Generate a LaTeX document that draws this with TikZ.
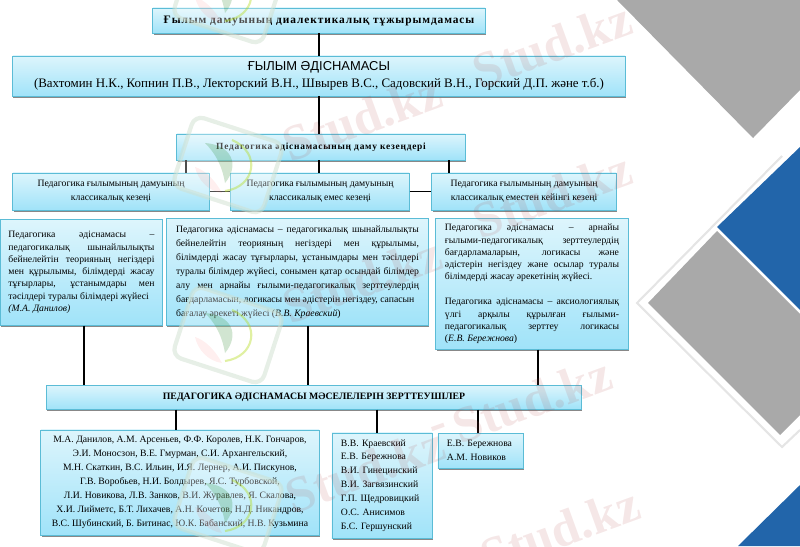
\documentclass[tikz,border=0pt]{standalone}
\usepackage{fontspec}
\setmainfont{Liberation Serif}
\newfontfamily\spacedbf[LetterSpace=8]{Liberation Serif Bold}
\newfontfamily\headsans{Liberation Sans}
\usetikzlibrary{shadows}
\definecolor{boxline}{HTML}{5BBCD6}
\definecolor{boxtop}{HTML}{DDF5FC}
\definecolor{boxbottom}{HTML}{A0E3F9}
\definecolor{bggray}{HTML}{A9A9A9}
\definecolor{bgblue}{HTML}{2265AA}
\definecolor{markred}{HTML}{B04848}
\definecolor{markgreen}{HTML}{CFE0CF}
\tikzset{
  infobox/.style={draw=boxline, line width=0.7pt, top color=boxtop, bottom color=boxbottom, inner sep=0pt,
    drop shadow={shadow xshift=0.4pt, shadow yshift=-1.1pt, fill=black!55, opacity=0.85},
    align=center, font=\fontsize{6.9}{8.75}\selectfont},
  namebox/.style={infobox, font=\fontsize{6.9}{9.88}\selectfont},
  wordmark/.style={font=\fontsize{36}{36}\selectfont\bfseries, text=markred, text opacity=0.13, rotate=20, inner sep=0pt},
  logomark/.style={draw=markgreen, draw opacity=0.5, line width=3pt, fill=white, fill opacity=0.3, rounded corners=7pt, rotate=-18, minimum width=2.35cm, minimum height=1.85cm},
  linkline/.style={line width=1.4pt, black}
}
\begin{document}
\begin{tikzpicture}[x=0.025cm, y=-0.025cm]
  \useasboundingbox (0,0) rectangle (800,546);
  % Background
  \fill[bggray] (617,0) -- (753,138) -- (800,90) -- (800,0) -- cycle;
  \draw[black!10, line width=1.5pt] (782,156) -- (637,303) -- (782,447) -- (800,430);
  \fill[bgblue] (800,147) -- (717,227) -- (800,310) -- cycle;
  \fill[bggray] (717,231) -- (648,303) -- (780,435) -- (800,415) -- (800,314) -- cycle;
  \fill[bgblue] (800,485) -- (738,546) -- (800,546) -- cycle;
  % Boxes
  \node[infobox, font=\fontsize{8.1}{10}\spacedbf, minimum width=8.3cm, minimum height=0.625cm] (title) at (319,20.5) {Ғылым дамуының диалектикалық тұжырымдамасы};
  \node[infobox, font=\fontsize{9.2}{12}\selectfont, minimum width=15.3cm, minimum height=1cm] (method) at (319,76) {{\headsans ҒЫЛЫМ ӘДІСНАМАСЫ}\\(Вахтомин Н.К., Копнин П.В., Лекторский В.Н., Швырев В.С., Садовский В.Н., Горский Д.П. және т.б.)};
  \node[infobox, font=\fontsize{6.7}{9}\spacedbf, minimum width=7.2cm, minimum height=0.65cm] (stages) at (321,147) {Педагогика әдіснамасының даму кезеңдері};
  \node[infobox, minimum width=4.9cm, minimum height=0.925cm] (stageA) at (111,191.5) {Педагогика ғылымының дамуының\\[1.5pt]классикалық кезеңі};
  \node[infobox, minimum width=4.45cm, minimum height=0.925cm] (stageB) at (320,191.5) {Педагогика ғылымының дамуының\\[1.5pt]классикалық емес кезеңі};
  \node[infobox, minimum width=4.6cm, minimum height=0.925cm] (stageC) at (524,191.5) {Педагогика ғылымының дамуының\\[1.5pt]классикалық еместен кейінгі кезеңі};
  \node[infobox, align=justify, text width=3.65cm, inner xsep=0.21cm, minimum height=2.625cm] (paraA) at (81.5,272.5) {Педагогика әдіснамасы –\linebreak педагогикалық шынайлылықты\linebreak бейнелейтін теорияның негіздері\linebreak мен құрылымы, білімдерді жасау\linebreak тұғырлары, ұстанымдары мен\linebreak тәсілдері туралы білімдері жүйесі\\\textit{(М.А. Данилов)}\par\vspace{5.7pt}};
  \node[infobox, font=\fontsize{6.9}{10}\selectfont, align=justify, text width=6.07cm, inner xsep=0.23cm, minimum height=2.65cm] (paraB) at (297.5,272) {Педагогика әдіснамасы – педагогикалық шынайлылықты\linebreak бейнелейтін теорияның негіздері мен құрылымы,\linebreak білімдерді жасау тұғырлары, ұстанымдары мен тәсілдері\linebreak туралы білімдер жүйесі, сонымен қатар осындай білімдер\linebreak алу мен арнайы ғылыми-педагогикалық зерттеулердің\linebreak бағдарламасын, логикасы мен әдістерін негіздеу, сапасын\\бағалау әрекеті жүйесі (\textit{В.В. Краевский})};
  \node[infobox, align=justify, text width=4.35cm, inner xsep=0.225cm, minimum height=3.25cm] (paraC) at (532,284) {Педагогика әдіснамасы – арнайы\linebreak ғылыми-педагогикалық зерттеулердің\linebreak бағдарламаларын, логикасы және\linebreak әдістерін негіздеу және осылар туралы\linebreak білімдерді жасау әрекетінің жүйесі.\\[9pt]Педагогика әдіснамасы – аксиологиялық\linebreak үлгі арқылы құрылған ғылыми-\linebreak педагогикалық зерттеу логикасы\linebreak (\textit{Е.В. Бережнова})};
  \node[infobox, font=\fontsize{6.95}{9}\selectfont\bfseries, minimum width=13.35cm, minimum height=0.6cm] (heads) at (314,397) {ПЕДАГОГИКА ӘДІСНАМАСЫ МӘСЕЛЕЛЕРІН ЗЕРТТЕУШІЛЕР};
  \node[namebox, minimum width=6.95cm, minimum height=2.625cm] (namesA) at (180,482.5) {М.А. Данилов, А.М. Арсеньев, Ф.Ф. Королев, Н.К. Гончаров,\\Э.И. Моносзон, В.Е. Гмурман, С.И. Архангельский,\\М.Н. Скаткин, В.С. Ильин, И.Я. Лернер, А.И. Пискунов,\\Г.В. Воробьев, Н.И. Болдырев, Я.С. Турбовской,\\Л.И. Новикова, Л.В. Занков, В.И. Журавлев, Я. Скалова,\\Х.И. Лийметс, Б.Т. Лихачев, А.Н. Кочетов, Н.Д. Никандров,\\В.С. Шубинский, Б. Битинас, Ю.К. Бабанский, Н.В. Кузьмина};
  \node[namebox, align=left, text width=2.05cm, inner xsep=0.225cm, minimum height=2.625cm] (namesB) at (382,485.5) {В.В. Краевский\\Е.В. Бережнова\\В.И. Гинецинский\\В.И. Загвязинский\\Г.П. Щедровицкий\\О.С. Анисимов\\Б.С. Гершунский};
  \node[namebox, align=left, text width=1.675cm, inner xsep=0.225cm, minimum height=0.875cm] (namesC) at (480.5,450.5) {Е.В. Бережнова\\А.М. Новиков};
  % Connectors
  \draw[linkline] (title) -- (method);
  \draw[linkline] (method.south -| title.south) -- (stages.north -| title.south);
  \draw[linkline] (186,0 |- stages.south) -- (186,0 |- stageA.north);
  \draw[linkline] (stages.south -| title.south) -- (stageB.north -| title.south);
  \draw[linkline] (449,0 |- stages.south) -- (449,0 |- stageC.north);
  \draw[linkline] (stageA) -- (stageB);
  \draw[linkline] (stageB) -- (stageC);
  \draw[linkline] (84,0 |- paraA.south) -- (84,0 |- heads.north);
  \draw[linkline] (308,0 |- paraB.south) -- (308,0 |- heads.north);
  \draw[linkline] (538,0 |- paraC.south) -- (538,0 |- heads.north);
  \draw[linkline] (176,0 |- heads.south) -- (176,0 |- namesA.north);
  \draw[linkline] (377,0 |- heads.south) -- (377,0 |- namesB.north);
  \draw[linkline] (478,0 |- heads.south) -- (478,0 |- namesC.north);
  % Watermarks
  \foreach \mx/\my in {552/45, 362/118, 552/195, 362/280, 365/470, 532/400, 560/530} {
    \node[wordmark] at (\mx,\my) {Stud.kz};
  }
  \node[wordmark] at (440,432) {-};
  \foreach \ly in {-5,165,335,505} {
    \node[logomark] at (228,\ly) {};
    \fill[green!45!black, opacity=0.18] (205,\ly-22) .. controls (232,\ly-20) and (240,\ly) .. (225,\ly+18) .. controls (222,\ly) and (215,\ly-12) .. (205,\ly-22);
    \draw[yellow!70!green, opacity=0.4, line width=1.5pt] (232,\ly-25) .. controls (262,\ly-12) and (255,\ly+22) .. (225,\ly+26);
    \fill[red!60, opacity=0.1] (195,\ly+2) .. controls (205,\ly+5) and (215,\ly+15) .. (222,\ly+28) .. controls (208,\ly+26) and (198,\ly+15) .. (195,\ly+2);
  }
\end{tikzpicture}
\end{document}
